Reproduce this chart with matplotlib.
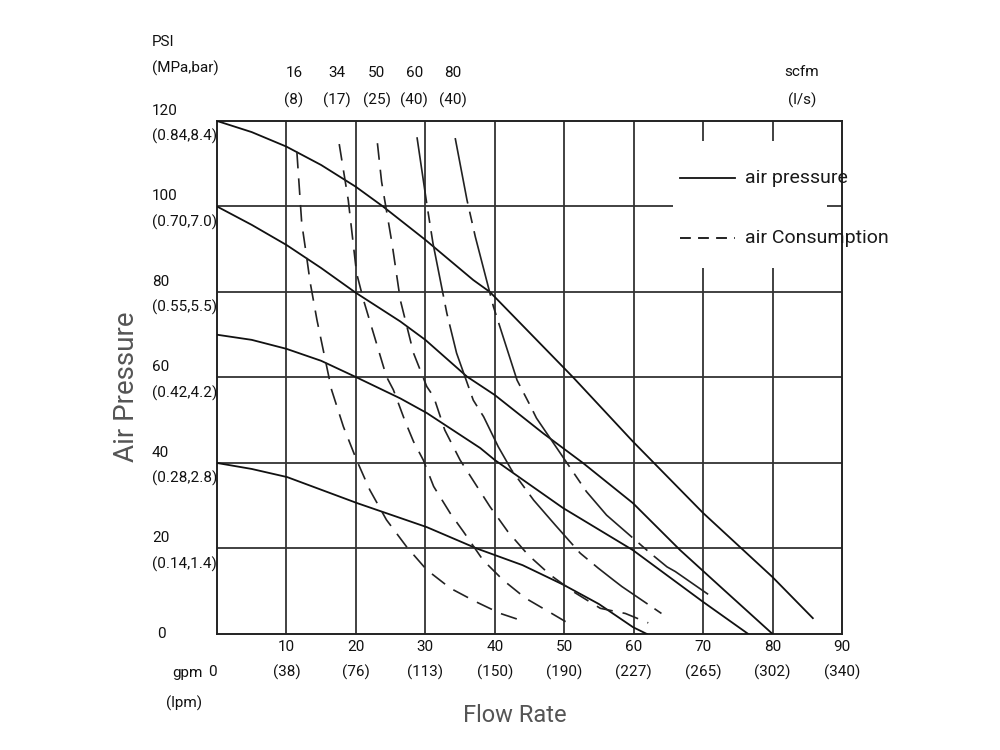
import matplotlib
matplotlib.use("Agg")
import matplotlib.pyplot as plt
import matplotlib.transforms as mtransforms
from matplotlib.patches import Rectangle

plt.rcParams['font.family'] = ['Roboto', 'DejaVu Sans']

# Криві тиску повітря (gpm, psi)
p120_gpm = [0, 5, 10, 15, 20, 23.9, 30, 36.9, 39.3, 45, 51.3, 55.2, 59.9, 70, 80, 85.8]
p120_psi = [120, 117.4, 114, 109.7, 104.6, 100, 92.2, 82.8, 80, 70.5, 60, 53.2, 45, 28.3, 13.3, 3.7]
p100_gpm = [0, 5, 10, 15, 20, 26.4, 30, 36, 40, 47, 52.7, 59.9, 66.7, 73, 80]
p100_psi = [100, 95.7, 91, 85.6, 79.8, 73.1, 68.8, 60.2, 55.9, 46.9, 40, 30.6, 19.6, 10.3, 0]
p70_gpm = [0, 5, 10, 15, 20, 26.4, 30.2, 37.9, 40, 44.1, 49.8, 59.9, 70, 76.5]
p70_psi = [70, 68.8, 66.7, 63.9, 60.1, 55.1, 51.7, 43.5, 40.7, 36, 29.5, 19.6, 7.5, 0]
p40_gpm = [0, 5, 10.1, 20.2, 30.2, 37.4, 44, 49.9, 55, 59.9, 61.9]
p40_psi = [40, 38.6, 36.7, 30.6, 25, 20, 16.1, 11.5, 7, 1.6, 0]

# Криві витрати повітря (gpm, psi)
c16_gpm = [11.5, 12.2, 12.9, 13.4, 14.4, 16.5, 18.2, 20.1, 22, 24.4, 27.3, 30.2, 33.6, 37.2, 40.8, 44.3]
c16_psi = [112.8, 96.1, 88.3, 82.4, 73.4, 57.1, 48.5, 40.7, 33.7, 26.7, 20.4, 15, 10.7, 7.6, 4.8, 2.9]
c34_gpm = [17.6, 18.9, 20.1, 21.1, 24.4, 25.4, 27.1, 28.3, 29.7, 31.2, 33.6, 35.5, 38.3, 41.2, 44.4, 48.2, 50.6]
c34_psi = [114.6, 101.5, 84.4, 78.1, 60.2, 57.1, 49.7, 45, 40.7, 34.5, 28.2, 23.9, 17.3, 12.6, 8.4, 4.8, 2.5]
c50_gpm = [23.1, 23.7, 25.2, 26.4, 28.3, 30.2, 31.2, 32.8, 35, 37.6, 39.3, 41.9, 44.8, 48, 51.3, 55.2, 58.8, 62.1]
c50_psi = [114.8, 105.8, 91.4, 78.1, 65.7, 57.9, 55.5, 47.7, 40.7, 34.1, 29.8, 23.9, 18.5, 13.8, 9.9, 6, 4.8, 2.6]
c60_gpm = [28.8, 30.2, 31.1, 33.1, 34.5, 36.9, 38.4, 40.5, 42.4, 45.6, 48.7, 52.3, 54.9, 57.1, 58.3, 64]
c60_psi = [116.2, 100.7, 91.4, 75, 65.7, 54.7, 50.8, 43.8, 38.4, 31.3, 25.5, 18.9, 15.4, 12.6, 11.1, 4.8]
c80_gpm = [34.3, 36, 37.2, 39.8, 41.5, 43.2, 45.3, 46, 53.2, 56.1, 62.4, 64.8, 66, 71.5]
c80_psi = [116, 101.5, 92.9, 76.6, 68, 59.4, 52.8, 50.5, 33.3, 27.8, 18.9, 15.7, 14.6, 8.4]

# Підписи осей
psi_ticks = [20, 40, 60, 80, 100, 120]
psi_sub = ['(0.14,1.4)', '(0.28,2.8)', '(0.42,4.2)', '(0.55,5.5)', '(0.70,7.0)', '(0.84,8.4)']
gpm_ticks = [10, 20, 30, 40, 50, 60, 70, 80, 90]
lpm_sub = ['(38)', '(76)', '(113)', '(150)', '(190)', '(227)', '(265)', '(302)', '(340)']
scfm_x = [11.1, 17.3, 23.0, 28.4, 34.0]
scfm_top = ['16', '34', '50', '60', '80']
scfm_sub = ['(8)', '(17)', '(25)', '(40)', '(40)']

fig = plt.figure(figsize=(10, 7.5), dpi=100)
ax = fig.add_axes([0.217, 0.1547, 0.625, 0.684])
ax.set_xlim(0, 90)
ax.set_ylim(0, 120)
ax.set_xticks([])
ax.set_yticks([])
for v in gpm_ticks[:-1]:
    ax.axvline(v, color='#333333', lw=1.3, zorder=1)
for v in psi_ticks[:-1]:
    ax.axhline(v, color='#333333', lw=1.3, zorder=1)
for s in ax.spines.values():
    s.set_color('#222222')
    s.set_linewidth(1.4)

# білий фон легенди
ax.add_patch(Rectangle((65.7, 85.6), 22.1, 29.7, facecolor='white', edgecolor='none', zorder=1.5))

solid = dict(color='#111111', lw=1.3, zorder=3)
ax.plot(p120_gpm, p120_psi, **solid)
ax.plot(p100_gpm, p100_psi, **solid)
ax.plot(p70_gpm, p70_psi, **solid)
ax.plot(p40_gpm, p40_psi, **solid)

dash = dict(color='#222222', lw=1.2, zorder=3, linestyle=(0, (10, 6)))
longdash = dict(color='#222222', lw=1.2, zorder=3, linestyle=(0, (40, 5, 7, 5)))
ax.plot(c16_gpm, c16_psi, **dash)
ax.plot(c34_gpm, c34_psi, **dash)
ax.plot(c50_gpm, c50_psi, **dash)
ax.plot(c60_gpm, c60_psi, **longdash)
ax.plot(c80_gpm, c80_psi, **longdash)

# легенда
ax.plot([66.7, 74.6], [106.7, 106.7], color='#111111', lw=1.3, zorder=3)
ax.plot([66.7, 74.6], [92.6, 92.6], color='#111111', lw=1.3, zorder=3, linestyle=(0, (6, 4)))
ax.text(76.0, 106.7, 'air pressure', fontsize=14, va='center', ha='left', color='#1a1a1a', zorder=5, clip_on=False)
ax.text(76.0, 92.6, 'air Consumption', fontsize=14, va='center', ha='left', color='#1a1a1a', zorder=5, clip_on=False)

tf = mtransforms.blended_transform_factory(ax.transAxes, ax.transData)
lab_x = -0.104
tick_fs = 11
tc = '#111111'
for v, sub in zip(psi_ticks, psi_sub):
    ax.text(lab_x, v + 2.4, str(v), transform=tf, fontsize=tick_fs, ha='left', va='center', color=tc)
    ax.text(lab_x, v - 3.7, sub, transform=tf, fontsize=tick_fs, ha='left', va='center', color=tc)
ax.text(-0.095, 0, '0', transform=tf, fontsize=tick_fs, ha='left', va='center', color=tc)
ax.text(lab_x, 138.5, 'PSI', transform=tf, fontsize=tick_fs, ha='left', va='center', color=tc)
ax.text(lab_x, 132.4, '(MPa,bar)', transform=tf, fontsize=tick_fs, ha='left', va='center', color=tc)

for v, sub in zip(gpm_ticks, lpm_sub):
    ax.text(v, -3.0, str(v), fontsize=tick_fs, ha='center', va='center', color=tc, clip_on=False)
    ax.text(v, -8.9, sub, fontsize=tick_fs, ha='center', va='center', color=tc, clip_on=False)
ax.text(-0.6, -8.9, '0', fontsize=tick_fs, ha='center', va='center', color=tc, clip_on=False)
ax.text(-4.3, -9.2, 'gpm', fontsize=tick_fs, ha='center', va='center', color=tc, clip_on=False)
ax.text(-4.8, -16.3, '(lpm)', fontsize=tick_fs, ha='center', va='center', color=tc, clip_on=False)

for x, t, sub in zip(scfm_x, scfm_top, scfm_sub):
    ax.text(x, 131.2, t, fontsize=tick_fs, ha='center', va='center', color=tc, clip_on=False)
    ax.text(x, 124.9, sub, fontsize=tick_fs, ha='center', va='center', color=tc, clip_on=False)
ax.text(84.2, 131.4, 'scfm', fontsize=tick_fs, ha='center', va='center', color=tc, clip_on=False)
ax.text(84.2, 124.9, '(l/s)', fontsize=tick_fs, ha='center', va='center', color=tc, clip_on=False)

fig.text(0.126, 1 - 387 / 750, 'Air Pressure', rotation=90, fontsize=20, ha='center', va='center',
         color='#555555')
fig.text(0.515, 1 - 716 / 750, 'Flow Rate', fontsize=17, ha='center', va='center', color='#555555')

fig.savefig('out.png', dpi=100, facecolor='white')
